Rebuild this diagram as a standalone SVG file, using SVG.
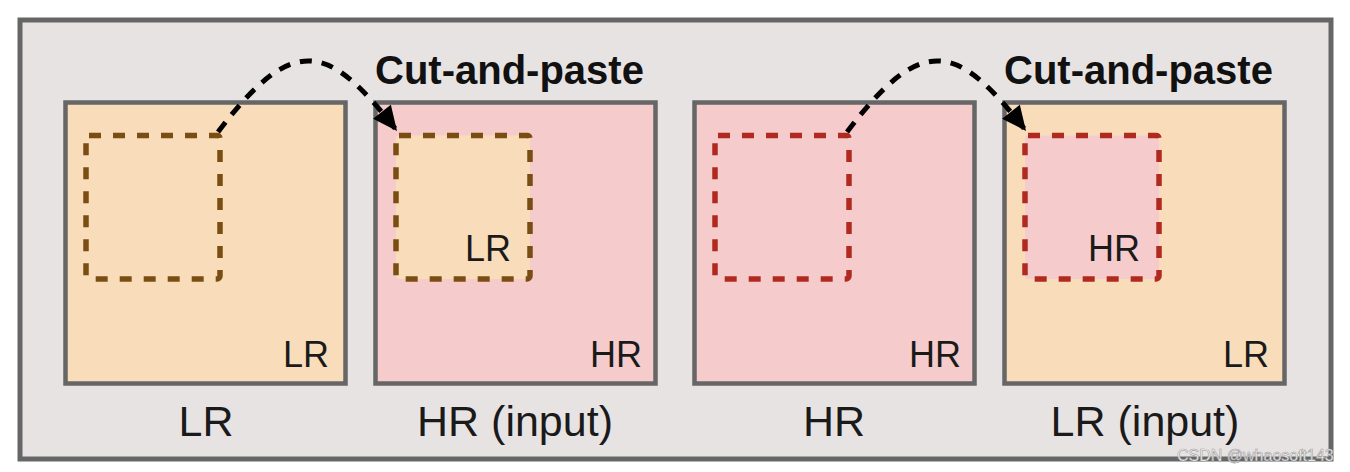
<svg xmlns="http://www.w3.org/2000/svg" width="1350" height="472" viewBox="0 0 1350 472">
<style>
.frame{fill:#e8e3e3;stroke:#666;stroke-width:5}
.box{stroke:#666;stroke-width:4.5}
.lr{fill:#f9ddbb}
.hr{fill:#f5cbcc}
.cutb{fill:none;stroke:#7a4d12;stroke-width:5.5;stroke-dasharray:12 12;stroke-linejoin:round}
.cutr{fill:none;stroke:#b02a20;stroke-width:5.5;stroke-dasharray:12 12;stroke-linejoin:round}
.arc{fill:none;stroke:#000;stroke-width:5;stroke-dasharray:12 10}
text{font-family:"Liberation Sans",Arial,sans-serif;fill:#1a1a1a}
.corner{font-size:36px;text-anchor:end}
.cap{font-size:43px;text-anchor:middle}
.title{font-size:40px;font-weight:bold;fill:#111}
.wm{font-size:16px;fill:#ffffff;stroke:#9a9a9a;stroke-width:0.6}
</style>
<defs>
<marker id="ah" markerUnits="userSpaceOnUse" markerWidth="32" markerHeight="32" refX="0" refY="0" viewBox="-30 -15 34 30" orient="auto">
<path d="M0,0 L-26,-12 L-26,12 Z" fill="#000"/>
</marker>
</defs>
<rect class="frame" x="20" y="20" width="1311" height="439"/>
<g id="node-lr">
<rect class="box lr" x="65.5" y="102.5" width="280" height="281"/>
<rect class="cutb" x="86" y="135.5" width="134" height="143.5" rx="3"/>
<text class="corner" x="329" y="367">LR</text>
<text class="cap" x="206" y="436">LR</text>
</g>
<g id="node-hr-input">
<rect class="box hr" x="375.5" y="102.5" width="280" height="281"/>
<rect class="cutb" style="fill:#f9ddbb" x="396" y="135.5" width="134" height="143.5" rx="3"/>
<text class="corner" x="511" y="261">LR</text>
<text class="corner" x="642" y="367">HR</text>
<text class="cap" x="515" y="436">HR (input)</text>
</g>
<g id="node-hr">
<rect class="box hr" x="694.5" y="102.5" width="280" height="281"/>
<rect class="cutr" x="715" y="135.5" width="134" height="143.5" rx="3"/>
<text class="corner" x="961" y="367">HR</text>
<text class="cap" x="834" y="436">HR</text>
</g>
<g id="node-lr-input">
<rect class="box lr" x="1004.5" y="102.5" width="280" height="281"/>
<rect class="cutr" style="fill:#f5cbcc" x="1025" y="135.5" width="134" height="143.5" rx="3"/>
<text class="corner" x="1140" y="261">HR</text>
<text class="corner" x="1269" y="367">LR</text>
<text class="cap" x="1145" y="436">LR (input)</text>
</g>
<g id="connectors">
<path class="arc" d="M218,132 C295,30 330,45 397,131" marker-end="url(#ah)"/>
<text class="title" x="375" y="84">Cut-and-paste</text>
<path class="arc" d="M847,132 C924,30 959,45 1026,131" marker-end="url(#ah)"/>
<text class="title" x="1004" y="84">Cut-and-paste</text>
</g>
<text class="wm" x="1177" y="461">CSDN @whaosoft143</text>
</svg>
